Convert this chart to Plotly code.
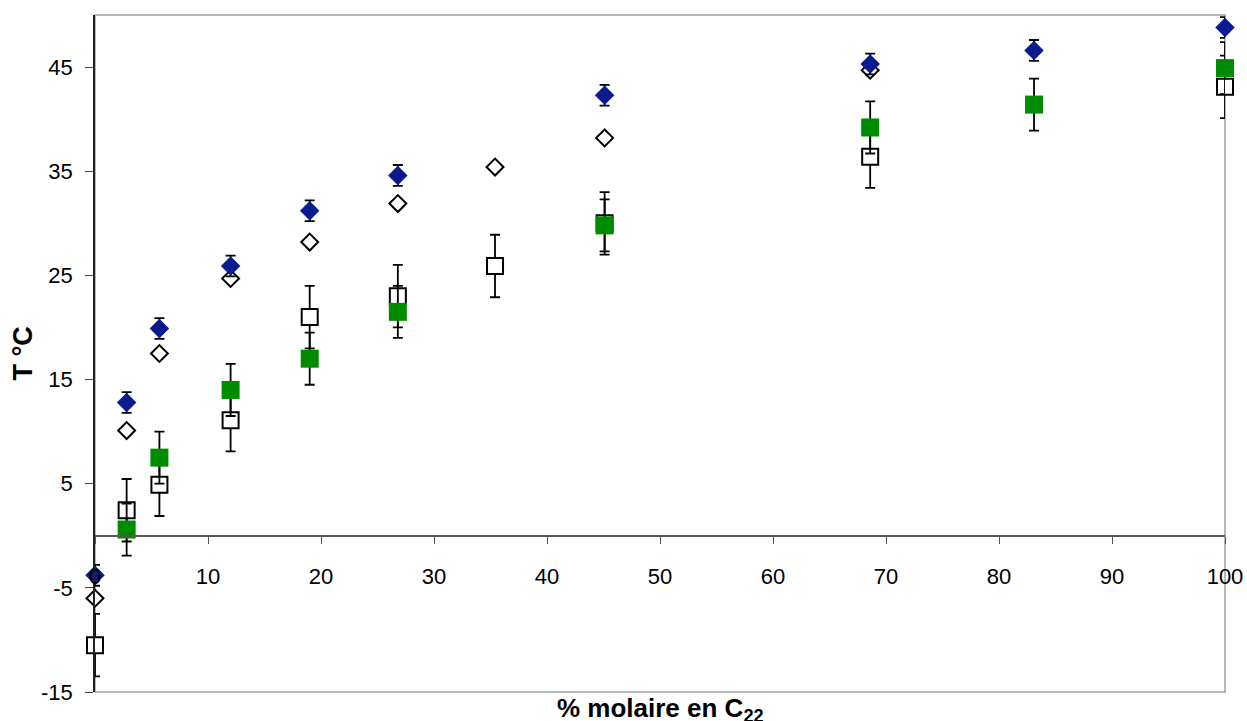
import plotly.graph_objects as go

# Data
x_vals = [0, 2.8, 5.7, 12.0, 19.0, 26.8, 35.4, 45.1, 68.6, 83.1, 100]
blue_diamond = [-3.8, 12.8, 19.9, 25.9, 31.2, 34.6, None, 42.3, 45.3, 46.6, 48.8]
open_diamond = [-6.0, 10.1, 17.5, 24.7, 28.2, 31.9, 35.4, 38.2, 44.7, None, None]
green_square = [None, 0.6, 7.5, 14.0, 17.0, 21.5, None, 29.8, 39.2, 41.4, 44.9]
open_square = [-10.5, 2.45, 4.9, 11.1, 21.0, 23.0, 25.9, 30.0, 36.4, None, 43.1]
err_blue = 1.0
err_green = 2.5
err_open_sq = 3.0

x_ticks = [0, 10, 20, 30, 40, 50, 60, 70, 80, 90, 100]
y_ticks = [-15, -5, 5, 15, 25, 35, 45]

FONT = "Liberation Sans, Arial, Helvetica, sans-serif"

fig = go.Figure()

def eb(v):
    return dict(type="constant", value=v, color="black", thickness=1.8, width=5)

fig.add_trace(go.Scatter(
    x=x_vals, y=open_square, mode="markers", cliponaxis=False,
    marker=dict(symbol="square", size=16, color="white", line=dict(color="black", width=2)),
    error_y=eb(err_open_sq), showlegend=False))
fig.add_trace(go.Scatter(
    x=x_vals, y=green_square, mode="markers", cliponaxis=False,
    marker=dict(symbol="square", size=18, color="#008C00", line=dict(width=0)),
    error_y=eb(err_green), showlegend=False))
fig.add_trace(go.Scatter(
    x=x_vals, y=open_diamond, mode="markers", cliponaxis=False,
    marker=dict(symbol="diamond", size=13, color="white", line=dict(color="black", width=2)),
    showlegend=False))
fig.add_trace(go.Scatter(
    x=x_vals, y=blue_diamond, mode="markers", cliponaxis=False,
    marker=dict(symbol="diamond", size=15, color="#0A1A8F", line=dict(width=0)),
    error_y=eb(err_blue), showlegend=False))

fig.update_layout(
    width=1247, height=721,
    margin=dict(l=95, r=22, t=15, b=29, autoexpand=False),
    paper_bgcolor="white", plot_bgcolor="white",
    font=dict(family=FONT, size=22, color="black"),
    xaxis=dict(
        range=[0, 100], tickvals=x_ticks, ticktext=[str(t) for t in x_ticks],
        anchor="free", position=15 / 65, automargin=False,
        showline=True, linecolor="#555555", linewidth=1.5,
        ticks="outside", ticklen=7, tickwidth=1.2, tickcolor="#555555",
        ticklabelstandoff=14,
        showgrid=False, zeroline=False,
        tickfont=dict(size=22, family=FONT),
    ),
    yaxis=dict(
        range=[-15, 50], tickvals=y_ticks, ticktext=[str(t) for t in y_ticks],
        automargin=False,
        showline=True, linecolor="#222222", linewidth=1.5,
        ticks="outside", ticklen=8, tickwidth=1.2, tickcolor="#444444",
        ticklabelstandoff=8,
        showgrid=False, zeroline=False,
        tickfont=dict(size=22, family=FONT),
    ),
    shapes=[dict(type="rect", xref="paper", yref="paper", x0=0, x1=1, y0=0, y1=1,
                 line=dict(color="#A0A0A0", width=1.5), layer="below")],
    annotations=[
        dict(text="<b>% molaire en C<sub>22</sub></b>", xref="paper", yref="paper",
             x=0.5, y=0, yshift=1, xanchor="center", yanchor="top",
             showarrow=False, font=dict(size=26, family=FONT)),
        dict(text="<b>T °C</b>", xref="paper", yref="paper", textangle=-90,
             x=0, y=0.5, xshift=-73, xanchor="center", yanchor="middle",
             showarrow=False, font=dict(size=27, family=FONT)),
    ],
)

fig.write_html("out.html", config={"displayModeBar": False},
               post_script="document.body.style.margin='0';document.body.style.overflow='hidden';")
